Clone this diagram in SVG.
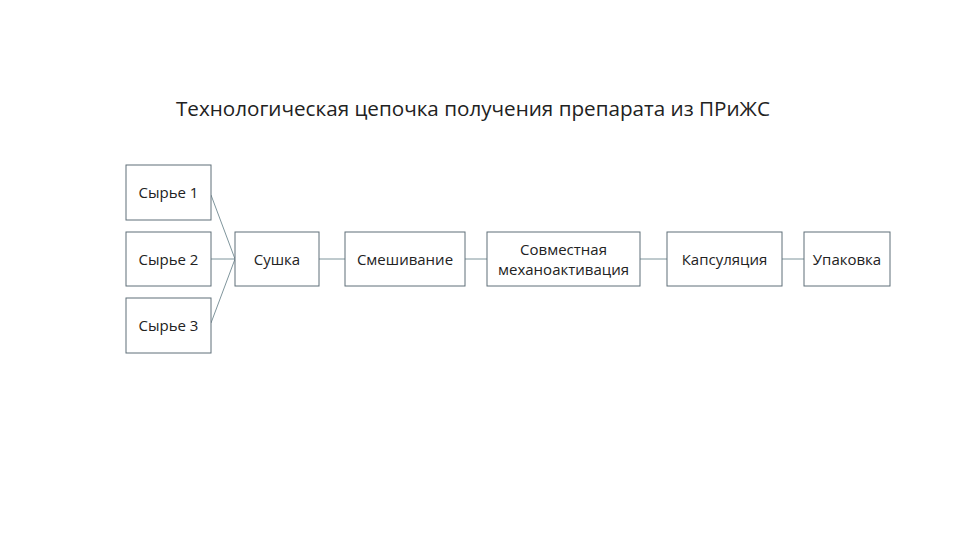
<svg xmlns="http://www.w3.org/2000/svg" width="960" height="540" viewBox="0 0 960 540">
<style>
.b{fill:#fff;stroke:#5f6f78;stroke-width:1}
.t{font-family:"Open Sans","Liberation Sans",sans-serif;font-size:15px;fill:#222;text-anchor:middle}
.c line{stroke:#7f959c;stroke-width:1}
</style>
<rect width="960" height="540" fill="#fff"/>
<text x="176" y="116" font-family="'Open Sans','Liberation Sans',sans-serif" font-size="20" fill="#222" textLength="594" lengthAdjust="spacingAndGlyphs">Технологическая цепочка получения препарата из ПРиЖС</text>
<g class="c">
<line x1="211" y1="195" x2="235" y2="259"/>
<line x1="211" y1="259" x2="235" y2="259"/>
<line x1="211" y1="323" x2="235" y2="259"/>
<line x1="319" y1="259" x2="345" y2="259"/>
<line x1="465" y1="259" x2="487" y2="259"/>
<line x1="640" y1="259" x2="667" y2="259"/>
<line x1="782" y1="259" x2="804" y2="259"/>
</g>
<g id="s1"><rect class="b" x="126" y="165" width="85" height="55"/><text class="t" x="168.5" y="198">Сырье 1</text></g>
<g id="s2"><rect class="b" x="126" y="232" width="85" height="54"/><text class="t" x="168.5" y="265">Сырье 2</text></g>
<g id="s3"><rect class="b" x="126" y="298" width="85" height="55"/><text class="t" x="168.5" y="331">Сырье 3</text></g>
<g id="n1"><rect class="b" x="235" y="232" width="84" height="54"/><text class="t" x="277" y="265">Сушка</text></g>
<g id="n2"><rect class="b" x="345" y="232" width="120" height="54"/><text class="t" x="405" y="265">Смешивание</text></g>
<g id="n3"><rect class="b" x="487" y="232" width="153" height="54"/><text class="t" x="563.5" y="255">Совместная</text><text class="t" x="563.5" y="275">механоактивация</text></g>
<g id="n4"><rect class="b" x="667" y="232" width="115" height="54"/><text class="t" x="724.5" y="265">Капсуляция</text></g>
<g id="n5"><rect class="b" x="804" y="232" width="86" height="54"/><text class="t" x="847" y="265">Упаковка</text></g>
</svg>
